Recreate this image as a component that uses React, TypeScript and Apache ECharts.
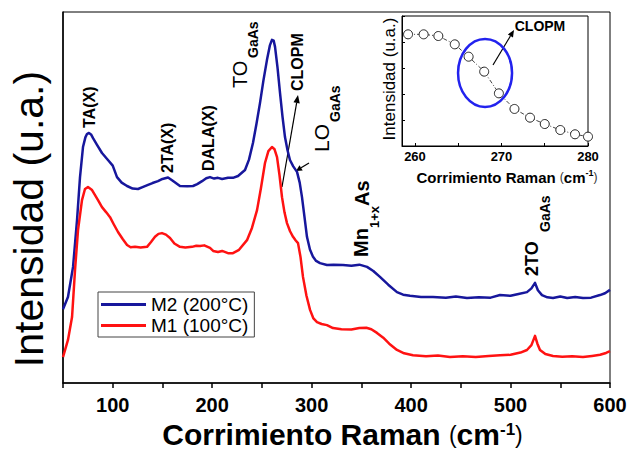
import React, { useEffect, useRef } from "react";
import * as echarts from "echarts";

const FONT = '"Liberation Sans", Arial, Helvetica, sans-serif';

// M2 (200°C) — Raman shift (cm-1), intensity (a.u.)
const m2Data: [number, number][] = [
  [50, 19.9], [55, 23.2], [60.1, 31.3], [64.1, 43.9], [67.1, 55.5], [70.1, 63.6],
  [72.5, 66.2], [74.1, 67.1], [76.1, 67.4], [78.2, 67.0], [80.2, 66.0], [84.2, 64.2],
  [89.2, 62.0], [95.2, 60.1], [100, 58.6], [104.3, 55.5], [109, 54.0], [114.4, 53.1],
  [120, 52.4], [125.4, 52.3], [130, 52.8], [135.5, 53.4], [140, 53.9], [145.5, 54.4],
  [150, 55.0], [155.6, 55.4], [160, 54.6], [167.6, 53.1], [175, 53.0], [180.7, 53.1],
  [185, 53.6], [189.8, 54.4], [194, 55.2], [197.8, 55.5], [202, 55.1], [205.8, 55.3],
  [210, 55.0], [215.9, 55.3], [220.9, 55.3], [226, 55.8], [233.0, 57.4], [237, 60.2],
  [241.0, 64.7], [244.5, 69.8], [248.1, 75.5], [251.5, 81.5], [255.1, 87.1], [258, 91.0],
  [260.1, 92.5], [261.8, 92.3], [263.2, 90.6], [265.7, 85.0], [268.2, 78.2], [270.7, 71.8],
  [273.2, 66.3], [275.7, 62.8], [278.2, 60.1], [281.5, 58.4], [285.3, 56.9], [288, 54.0],
  [290.3, 50.1], [292.8, 44.8], [295.3, 39.4], [298.3, 36.0], [301.4, 34.0], [304.5, 32.9],
  [308.4, 32.3], [315.4, 31.8], [322, 31.9], [331.5, 31.8], [340, 31.6], [348, 31.9],
  [355.7, 31.3], [362, 30.2], [368.7, 28.6], [377, 26.5], [385.8, 24.5], [392, 23.8],
  [398.9, 23.5], [410, 23.2], [422.0, 23.2], [435, 23.0], [445, 23.3], [456.2, 22.9],
  [468, 23.1], [480, 23.0], [489.4, 23.7], [500, 23.5], [508, 24.0], [516.5, 24.5],
  [521, 25.5], [524.6, 27.0], [527.5, 25.0], [531.6, 23.7], [537, 23.1], [542.7, 22.9],
  [550, 23.3], [557, 22.9], [565, 23.2], [572.8, 22.9], [581, 23.0], [589.9, 23.7],
  [595, 24.2], [600, 25.1]
];

// M1 (100°C)
const m1Data: [number, number][] = [
  [50, 7.0], [55, 11.6], [59.1, 17.8], [62.1, 30.5], [65.1, 41.2], [69.1, 49.3],
  [72.1, 52.3], [75.1, 52.8], [79.2, 52.0], [85.2, 49.3], [89.2, 47.4], [93.5, 46.0],
  [97.3, 44.7], [101, 42.8], [105.3, 40.7], [110, 38.8], [114.4, 37.2], [118, 36.6],
  [122.4, 36.7], [128, 36.5], [134.5, 36.7], [138.5, 38.0], [142.5, 39.4], [146, 40.2],
  [149.5, 40.4], [153.5, 40.0], [157.6, 39.1], [162, 37.6], [167.6, 36.7], [173, 36.5],
  [179.7, 36.7], [184, 37.0], [187.8, 36.9], [192, 37.1], [197.8, 36.4], [201, 35.6],
  [205.8, 35.3], [210, 35.6], [215.9, 35.0], [220.9, 35.0], [227, 35.9], [235.0, 38.5],
  [240, 41.8], [245.1, 46.6], [249, 52.5], [253.1, 59.3], [256.5, 62.5], [260.1, 63.6],
  [262.7, 63.0], [265.2, 60.9], [267.7, 56.0], [270.2, 50.1], [272.7, 46.0], [275.2, 43.1],
  [278.3, 40.9], [281.3, 39.4], [284, 38.4], [286.3, 37.7], [288.8, 34.0], [291.3, 28.6],
  [294.8, 23.5], [298.4, 19.7], [301.8, 17.4], [305.4, 16.4], [310, 15.9], [315.4, 15.6],
  [321.5, 14.8], [330, 14.5], [340, 14.4], [348, 14.8], [355, 14.9], [360, 14.5],
  [365.7, 13.5], [372, 12.2], [378, 10.6], [385.8, 8.9], [393, 8.0], [401.9, 7.5],
  [415, 7.2], [427, 7.4], [439.1, 7.0], [452, 7.2], [465, 7.0], [478, 7.3],
  [489.4, 7.5], [500, 7.6], [510, 8.2], [516.5, 8.9], [521, 10.2], [524.6, 12.7],
  [527, 10.6], [529.6, 8.9], [535, 7.8], [542.7, 7.3], [552, 7.1], [562, 7.2],
  [572.8, 7.0], [582, 7.3], [590, 7.6], [596, 8.1], [600, 8.6]
];

// Inset: zoom on the CLOPM region of the spectrum
const insetData: [number, number][] = [
  [259.2, 85.9], [261.0, 85.9], [262.7, 84.6], [264.6, 78.2], [266.2, 68.7],
  [268.0, 57.2], [269.7, 40.5], [271.5, 28.5], [273.3, 21.8], [275.0, 16.9],
  [276.8, 12.3], [278.5, 9.0], [280.0, 7.2]
];

const legendNames = ["M2 (200°C)", "M1 (100°C)"];
const clopmCenter: [number, number] = [268.1, 56.2];

const BLUE = "#17179c";
const RED = "#ff1212";

function vtext(text: string, x: number, yBottom: number, size: number, weight: string) {
  return {
    type: "text",
    x,
    y: yBottom,
    rotation: Math.PI / 2,
    silent: true,
    style: {
      text,
      fontSize: size,
      fontWeight: weight,
      fontFamily: FONT,
      fill: "#000",
      align: "left",
      textAlign: "left",
      verticalAlign: "middle",
      textVerticalAlign: "middle",
    },
  };
}

function arrow(x1: number, y1: number, x2: number, y2: number, head = 7, w = 3.2) {
  const dx = x2 - x1;
  const dy = y2 - y1;
  const L = Math.hypot(dx, dy);
  const ux = dx / L;
  const uy = dy / L;
  const bx = x2 - ux * head;
  const by = y2 - uy * head;
  const px = -uy;
  const py = ux;
  return [
    { type: "line", silent: true, shape: { x1, y1, x2: bx, y2: by }, style: { stroke: "#000", lineWidth: 1.2 } },
    {
      type: "polygon",
      silent: true,
      shape: { points: [[x2, y2], [bx + px * w, by + py * w], [bx - px * w, by - py * w]] },
      style: { fill: "#000" },
    },
  ];
}

export default function App() {
  const ref = useRef<HTMLDivElement>(null);

  useEffect(() => {
    if (!ref.current) return;
    const chart = echarts.init(ref.current, null, { renderer: "svg" });

    const option: any = {
      animation: false,
      backgroundColor: "#fff",
      textStyle: { fontFamily: FONT },
      grid: [
        {
          left: 63, top: 12, width: 547, height: 371, show: true, borderColor: "#000", borderWidth: 1,
          containLabel: false, outerBoundsMode: "none",
        },
        {
          left: 402, top: 16, width: 186, height: 130, show: true, borderColor: "#000", borderWidth: 1,
          backgroundColor: "#fff", containLabel: false, outerBoundsMode: "none",
        },
      ],
      legend: {
        data: legendNames,
        orient: "vertical",
        left: 98,
        top: 292,
        icon: "rect",
        itemWidth: 45,
        itemHeight: 3,
        itemGap: 2,
        padding: [3, 6, 2, 3],
        borderColor: "#444",
        borderWidth: 1,
        textStyle: { fontSize: 19, color: "#000", fontFamily: FONT },
      },
      xAxis: [
        {
          gridIndex: 0,
          type: "value",
          min: 50,
          max: 600,
          interval: 50,
          axisLine: { show: true, lineStyle: { color: "#000", width: 1.5 } },
          axisTick: { show: true, length: 5, lineStyle: { color: "#000", width: 1.5 } },
          axisLabel: {
            margin: 12,
            fontSize: 20,
            fontWeight: "bold",
            color: "#000",
            fontFamily: FONT,
            formatter: (v: number) => (v % 100 === 0 ? String(v) : ""),
          },
          splitLine: { show: false },
          name: "{b|Corrimiento Raman }{p|(}{b|cm}{s|-1}{p|)}",
          nameLocation: "middle",
          nameGap: 32,
          nameTextStyle: {
            padding: [0, 0, 0, 12],
            rich: {
              b: { fontSize: 30, fontWeight: "bold", color: "#000", fontFamily: FONT, lineHeight: 28 },
              p: { fontSize: 23, fontWeight: "normal", color: "#000", fontFamily: FONT, lineHeight: 28 },
              s: { fontSize: 17, fontWeight: "bold", color: "#000", fontFamily: FONT, lineHeight: 13, verticalAlign: "top" },
            },
          },
        },
        {
          gridIndex: 1,
          type: "value",
          min: 258.5,
          max: 280,
          axisLine: { show: true, lineStyle: { color: "#000", width: 1 } },
          axisTick: { show: true, inside: true, length: 3, lineStyle: { color: "#000" } },
          axisLabel: {
            margin: 4,
            fontSize: 13,
            fontWeight: "bold",
            color: "#000",
            fontFamily: FONT,
            showMinLabel: false,
            formatter: (v: number) => (Math.abs(v % 10) < 1e-6 ? String(v) : ""),
          },
          splitLine: { show: false },
        },
      ],
      yAxis: [
        {
          gridIndex: 0,
          type: "value",
          min: 0,
          max: 100,
          axisLine: { show: true, lineStyle: { color: "#000", width: 1.5 } },
          axisTick: { show: false },
          axisLabel: { show: false },
          splitLine: { show: false },
        },
        {
          gridIndex: 1,
          type: "value",
          min: 0,
          max: 100,
          interval: 20,
          axisLine: { show: true, lineStyle: { color: "#000", width: 1 } },
          axisTick: { show: true, inside: true, length: 3, lineStyle: { color: "#000" } },
          axisLabel: { show: false },
          splitLine: { show: false },
        },
      ],
      series: [
        {
          name: legendNames[0],
          type: "line",
          xAxisIndex: 0,
          yAxisIndex: 0,
          data: m2Data,
          showSymbol: false,
          symbol: "none",
          smooth: false,
          color: BLUE,
          lineStyle: { color: BLUE, width: 2.5, join: "round" },
        },
        {
          name: legendNames[1],
          type: "line",
          xAxisIndex: 0,
          yAxisIndex: 0,
          data: m1Data,
          showSymbol: false,
          symbol: "none",
          smooth: false,
          color: RED,
          lineStyle: { color: RED, width: 2.5, join: "round" },
        },
        {
          name: "inset",
          type: "line",
          xAxisIndex: 1,
          yAxisIndex: 1,
          data: insetData,
          symbol: "circle",
          symbolSize: 9,
          clip: true,
          itemStyle: { color: "#fff", borderColor: "#222", borderWidth: 1 },
          lineStyle: { color: "#444", width: 1, type: [4, 2, 1, 2] },
          z: 3,
        },
      ],
    };

    chart.setOption(option);

    const [ex, ey] = chart.convertToPixel({ xAxisIndex: 1, yAxisIndex: 1 }, clopmCenter) as number[];

    const elements: any[] = [
      {
        type: "text",
        x: 29,
        y: 219,
        rotation: Math.PI / 2,
        silent: true,
        style: {
          text: "Intensidad (u.a.)",
          fontSize: 41,
          fontWeight: "normal",
          fontFamily: FONT,
          fill: "#000",
          align: "center",
          textAlign: "center",
          verticalAlign: "middle",
          textVerticalAlign: "middle",
        },
      },
      vtext("TA(X)", 89, 128, 16, "bold"),
      vtext("2TA(X)", 167, 173, 16, "bold"),
      vtext("DALA(X)", 208, 171, 16, "bold"),
      vtext("TO", 240, 88, 20, "normal"),
      vtext("GaAs", 253, 58, 14, "bold"),
      vtext("CLOPM", 297, 91, 16, "bold"),
      vtext("LO", 321, 152, 21, "normal"),
      vtext("GaAs", 335, 122, 14, "bold"),
      vtext("Mn", 361, 257, 20, "bold"),
      vtext("1+x", 374, 228, 13, "bold"),
      vtext("As", 362, 206, 20, "bold"),
      vtext("2TO", 532, 276, 18, "bold"),
      vtext("GaAs", 545, 232, 14, "bold"),
      ...arrow(282, 187, 298, 95, 8, 3.2),
      ...arrow(309, 163, 296, 171, 6, 3),
      {
        type: "text",
        x: 389,
        y: 79,
        rotation: Math.PI / 2,
        silent: true,
        style: {
          text: "Intensidad (u.a.)",
          fontSize: 17,
          fontWeight: "normal",
          fontFamily: FONT,
          fill: "#000",
          align: "center",
          textAlign: "center",
          verticalAlign: "middle",
          textVerticalAlign: "middle",
        },
      },
      {
        type: "text",
        x: 507,
        y: 177,
        silent: true,
        style: {
          text: "{b|Corrimiento Raman }{p|(}{b|cm}{s|-1}{p|)}",
          align: "center",
          textAlign: "center",
          verticalAlign: "middle",
          textVerticalAlign: "middle",
          rich: {
            b: { fontSize: 15, fontWeight: "bold", fill: "#000", color: "#000", fontFamily: FONT, lineHeight: 18 },
            p: { fontSize: 12, fontWeight: "normal", fill: "#333", color: "#333", fontFamily: FONT, lineHeight: 18 },
            s: { fontSize: 9, fontWeight: "bold", fill: "#000", color: "#000", fontFamily: FONT, lineHeight: 10, verticalAlign: "top" },
          },
        },
      },
      {
        type: "text",
        x: 540,
        y: 26,
        silent: true,
        style: {
          text: "CLOPM",
          fontSize: 14,
          fontWeight: "bold",
          fontFamily: FONT,
          fill: "#000",
          align: "center",
          textAlign: "center",
          verticalAlign: "middle",
          textVerticalAlign: "middle",
        },
      },
      {
        type: "ellipse",
        silent: true,
        shape: { cx: ex, cy: ey, rx: 27, ry: 34 },
        style: { fill: "none", stroke: "#2222ee", lineWidth: 2.5 },
        z: 100,
      },
      ...arrow(493, 65, 514, 30, 7, 3),
    ];

    chart.setOption({ graphic: { elements } });

    return () => chart.dispose();
  }, []);

  return (
    <div
      ref={ref}
      style={{ position: "fixed", left: 0, top: 0, width: 631, height: 450, background: "#fff" }}
    />
  );
}
